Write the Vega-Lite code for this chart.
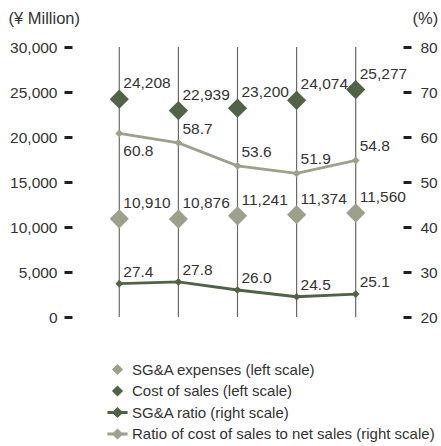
{
  "$schema": "https://vega.github.io/schema/vega-lite/v6.json",
  "width": 331,
  "height": 270,
  "autosize": {"type": "none"},
  "padding": {"left": 72, "top": 47, "right": 38, "bottom": 129},
  "background": "white",
  "config": {
    "view": {"stroke": null},
    "font": "Liberation Sans",
    "axis": {
      "labelFont": "Liberation Sans",
      "labelColor": "#333333",
      "titleColor": "#333333",
      "titleFont": "Liberation Sans",
      "titleFontWeight": "normal",
      "grid": false,
      "domain": false
    },
    "legend": {"labelFont": "Liberation Sans"}
  },
  "datasets": {
    "left": [
      {"year": 2001, "series": "SG&A expenses (left scale)", "amount": 10910},
      {"year": 2002, "series": "SG&A expenses (left scale)", "amount": 10876},
      {"year": 2003, "series": "SG&A expenses (left scale)", "amount": 11241},
      {"year": 2004, "series": "SG&A expenses (left scale)", "amount": 11374},
      {"year": 2005, "series": "SG&A expenses (left scale)", "amount": 11560},
      {"year": 2001, "series": "Cost of sales (left scale)", "amount": 24208},
      {"year": 2002, "series": "Cost of sales (left scale)", "amount": 22939},
      {"year": 2003, "series": "Cost of sales (left scale)", "amount": 23200},
      {"year": 2004, "series": "Cost of sales (left scale)", "amount": 24074},
      {"year": 2005, "series": "Cost of sales (left scale)", "amount": 25277}
    ],
    "right": [
      {"year": 2001, "series": "SG&A ratio (right scale)", "ratio": 27.4},
      {"year": 2002, "series": "SG&A ratio (right scale)", "ratio": 27.8},
      {"year": 2003, "series": "SG&A ratio (right scale)", "ratio": 26.0},
      {"year": 2004, "series": "SG&A ratio (right scale)", "ratio": 24.5},
      {"year": 2005, "series": "SG&A ratio (right scale)", "ratio": 25.1},
      {"year": 2001, "series": "Ratio of cost of sales to net sales (right scale)", "ratio": 60.8},
      {"year": 2002, "series": "Ratio of cost of sales to net sales (right scale)", "ratio": 58.7},
      {"year": 2003, "series": "Ratio of cost of sales to net sales (right scale)", "ratio": 53.6},
      {"year": 2004, "series": "Ratio of cost of sales to net sales (right scale)", "ratio": 51.9},
      {"year": 2005, "series": "Ratio of cost of sales to net sales (right scale)", "ratio": 54.8}
    ]
  },
  "layer": [
    {
      "data": {"name": "left"},
      "encoding": {
        "x": {
          "field": "year",
          "type": "ordinal",
          "scale": {"type": "point", "padding": 0.8},
          "axis": {
            "title": null,
            "labelAngle": 0,
            "labelFontSize": 15.5,
            "labelPadding": 4,
            "ticks": true,
            "tickSize": 3,
            "tickColor": "#6a6a6a",
            "tickWidth": 1.2
          }
        },
        "y": {
          "field": "amount",
          "type": "quantitative",
          "scale": {"domain": [0, 30000], "nice": false, "zero": true},
          "axis": {
            "orient": "left",
            "values": [0, 5000, 10000, 15000, 20000, 25000, 30000],
            "format": ",.0f",
            "tickSize": 8,
            "tickWidth": 3,
            "tickColor": "#231f20",
            "labelPadding": 7,
            "labelFontSize": 15.5,
            "title": "(¥ Million)",
            "titleAngle": 0,
            "titleX": -64,
            "titleY": -29,
            "titleAlign": "left",
            "titleBaseline": "middle",
            "titleFontSize": 16.5
          }
        }
      },
      "layer": [
        {
          "transform": [{"filter": "datum.series == 'Cost of sales (left scale)'"}],
          "mark": {"type": "rule", "color": "#6a6a6a", "strokeWidth": 1.2},
          "encoding": {
            "y": {"datum": 0, "type": "quantitative"},
            "y2": {"datum": 30000}
          }
        },
        {
          "mark": {"type": "point", "filled": true, "size": 370, "opacity": 1},
          "encoding": {
            "color": {
              "field": "series",
              "type": "nominal",
              "scale": {
                "domain": ["SG&A expenses (left scale)", "Cost of sales (left scale)", "SG&A ratio (right scale)", "Ratio of cost of sales to net sales (right scale)"],
                "range": ["#9da08a", "#506345", "#506345", "#9da08a"]
              },
              "legend": {
                "title": null,
                "orient": "none",
                "legendX": 38,
                "legendY": 315,
                "direction": "vertical",
                "symbolSize": 125,
                "symbolStrokeWidth": 0,
                "labelFontSize": 15,
                "labelColor": "#333333",
                "labelOffset": 7,
                "rowPadding": 5.5,
                "labelLimit": 400
              }
            },
            "shape": {
              "field": "series",
              "type": "nominal",
              "scale": {
                "domain": ["SG&A expenses (left scale)", "Cost of sales (left scale)", "SG&A ratio (right scale)", "Ratio of cost of sales to net sales (right scale)"],
                "range": ["diamond", "diamond", "M-1.8,-0.26H-0.74L0,-1L0.74,-0.26H1.8V0.26H0.74L0,1L-0.74,0.26H-1.8Z", "M-1.8,-0.26H-0.74L0,-1L0.74,-0.26H1.8V0.26H0.74L0,1L-0.74,0.26H-1.8Z"]
              },
              "legend": {
                "title": null,
                "orient": "none",
                "legendX": 38,
                "legendY": 315,
                "direction": "vertical",
                "symbolSize": 125,
                "symbolStrokeWidth": 0,
                "labelFontSize": 15,
                "labelColor": "#333333",
                "labelOffset": 7,
                "rowPadding": 5.5,
                "labelLimit": 400
              }
            }
          }
        },
        {
          "mark": {"type": "text", "align": "left", "baseline": "middle", "dx": 4, "dy": -16, "fontSize": 15.5, "color": "#333333"},
          "encoding": {
            "text": {"field": "amount", "type": "quantitative", "format": ",.0f"}
          }
        }
      ]
    },
    {
      "data": {"name": "right"},
      "encoding": {
        "x": {"field": "year", "type": "ordinal", "scale": {"type": "point", "padding": 0.8}, "axis": null},
        "y": {
          "field": "ratio",
          "type": "quantitative",
          "scale": {"domain": [20, 80], "nice": false, "zero": false},
          "axis": {
            "orient": "right",
            "values": [20, 30, 40, 50, 60, 70, 80],
            "tickSize": 8,
            "tickWidth": 3,
            "tickColor": "#231f20",
            "labelPadding": 9,
            "labelFontSize": 15.5,
            "title": "(%)",
            "titleAngle": 0,
            "titleX": 9,
            "titleY": -29,
            "titleAlign": "left",
            "titleBaseline": "middle",
            "titleFontSize": 16.5
          }
        }
      },
      "layer": [
        {
          "transform": [{"filter": "datum.series == 'Ratio of cost of sales to net sales (right scale)'"}],
          "mark": {"type": "line", "color": "#9da08a", "strokeWidth": 2.8, "point": {"shape": "diamond", "size": 60, "filled": true, "color": "#9da08a"}},
          "encoding": {}
        },
        {
          "transform": [{"filter": "datum.series == 'SG&A ratio (right scale)'"}],
          "mark": {"type": "line", "color": "#506345", "strokeWidth": 2.8, "point": {"shape": "diamond", "size": 60, "filled": true, "color": "#506345"}},
          "encoding": {}
        },
        {
          "transform": [{"filter": "datum.series == 'SG&A ratio (right scale)'"}],
          "mark": {"type": "text", "align": "left", "baseline": "middle", "dx": 4, "dy": -12, "fontSize": 15.5, "color": "#333333"},
          "encoding": {
            "text": {"field": "ratio", "type": "quantitative", "format": ".1f"}
          }
        },
        {
          "transform": [{"filter": "datum.year != 2001 && datum.series == 'Ratio of cost of sales to net sales (right scale)'"}],
          "mark": {"type": "text", "align": "left", "baseline": "middle", "dx": 4, "dy": -14, "fontSize": 15.5, "color": "#333333"},
          "encoding": {
            "text": {"field": "ratio", "type": "quantitative", "format": ".1f"}
          }
        },
        {
          "transform": [{"filter": "datum.year == 2001 && datum.series == 'Ratio of cost of sales to net sales (right scale)'"}],
          "mark": {"type": "text", "align": "left", "baseline": "middle", "dx": 4, "dy": 18, "fontSize": 15.5, "color": "#333333"},
          "encoding": {
            "text": {"field": "ratio", "type": "quantitative", "format": ".1f"}
          }
        }
      ]
    }
  ],
  "resolve": {"scale": {"y": "independent"}}
}
